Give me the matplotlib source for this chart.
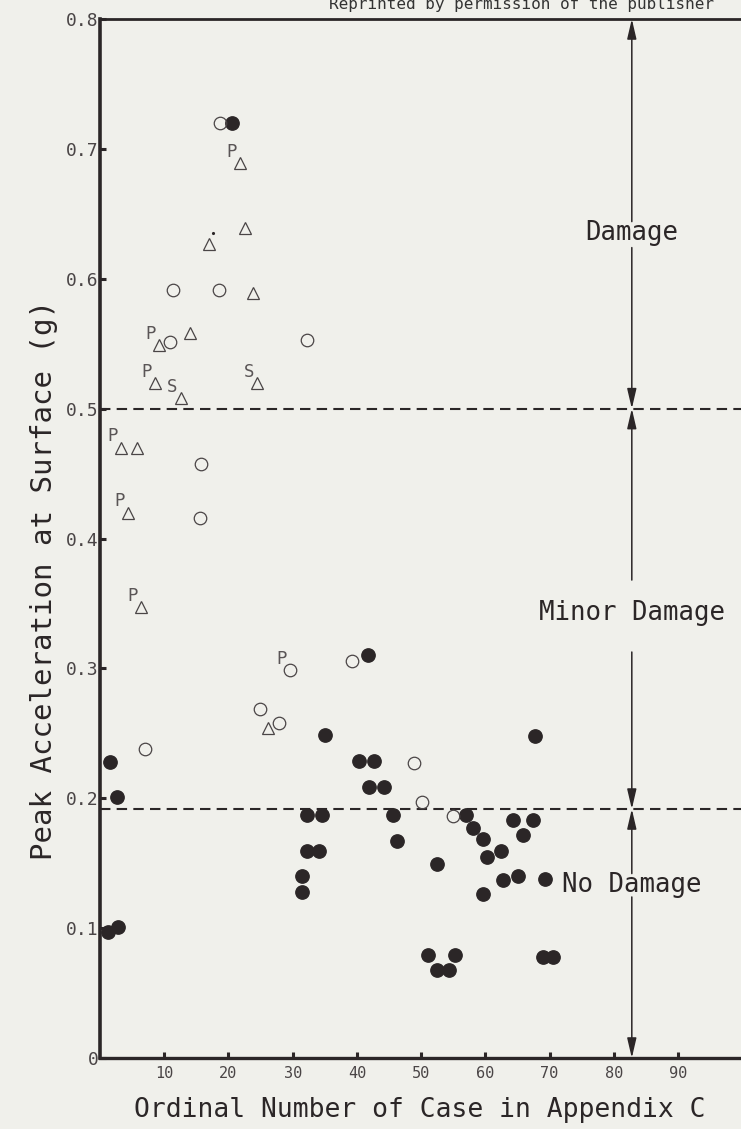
import matplotlib
matplotlib.use("Agg")
import matplotlib.pyplot as plt

# Cases with damage data: ordinal case number vs. peak surface acceleration (g)
solid_x = [20.6, 41.7, 35.0, 1.5, 2.6, 40.3, 42.7, 41.9, 44.2, 32.2, 34.6, 45.6,
           46.3, 32.2, 34.1, 52.5, 31.5, 31.5, 67.8, 57.0, 58.1, 59.7, 64.3, 67.4,
           65.9, 62.5, 60.3, 62.8, 65.1, 69.3, 59.7, 1.2, 2.8, 51.1, 55.3, 52.5,
           54.4, 69.0, 70.6]
solid_y = [0.720, 0.310, 0.249, 0.228, 0.201, 0.229, 0.229, 0.209, 0.209, 0.187, 0.187, 0.187,
           0.167, 0.159, 0.159, 0.149, 0.140, 0.128, 0.248, 0.187, 0.177, 0.169, 0.183, 0.183,
           0.172, 0.159, 0.155, 0.137, 0.140, 0.138, 0.126, 0.097, 0.101, 0.079, 0.079, 0.068,
           0.068, 0.078, 0.078]

open_x = [18.7, 11.4, 18.5, 10.9, 32.2, 15.7, 15.6, 29.6, 39.2, 24.9, 27.9, 7.0, 48.9, 50.2, 55.0]
open_y = [0.720, 0.591, 0.591, 0.551, 0.553, 0.457, 0.416, 0.299, 0.306, 0.269, 0.258, 0.238,
          0.227, 0.197, 0.186]
open_tags = ["", "", "", "", "", "", "", "P", "", "", "", "", "", "", ""]

tri_x = [21.8, 22.6, 17.0, 23.8, 9.2, 14.0, 8.6, 12.6, 24.5, 3.3, 5.7, 4.3, 6.4, 26.2]
tri_y = [0.689, 0.639, 0.627, 0.589, 0.549, 0.558, 0.520, 0.508, 0.520, 0.470, 0.470, 0.420,
         0.347, 0.254]
tri_tags = ["P", "", "", "", "P", "", "P", "S", "S", "P", "", "P", "P", ""]

# damage thresholds (g)
limits = [0.0, 0.1917, 0.5, 0.8]
zone_names = ["No Damage", "Minor Damage", "Damage"]
zone_text_y = [0.133, 0.343, 0.635]
zone_gap = [(0.124, 0.142), (0.3126, 0.368), (0.624, 0.644)]
arrow_x = 82.8

xticks = [10, 20, 30, 40, 50, 60, 70, 80, 90]
yticks = [0, 0.1, 0.2, 0.3, 0.4, 0.5, 0.6, 0.7, 0.8]
ytick_labels = ["0", "0.1", "0.2", "0.3", "0.4", "0.5", "0.6", "0.7", "0.8"]

bg = "#f0f0eb"
ink = "#2b2627"
mono = "DejaVu Sans Mono"

fig = plt.figure(figsize=(7.41, 11.29), dpi=100, facecolor=bg)
ax = fig.add_axes([100 / 741, 71 / 1129, 641 / 741, 1039 / 1129], facecolor=bg)
ax.set_xlim(0, 99.8)
ax.set_ylim(0, 0.8)

# threshold lines
for lim in limits[1:3]:
    ax.axhline(lim, color=ink, lw=1.5, dashes=(5, 3), zorder=1)

ax.plot(solid_x, solid_y, "o", ms=9.6, color=ink, mec=ink, zorder=3)
ax.plot(open_x, open_y, "o", ms=9, mfc="none", mec="#4a4546", mew=0.9, zorder=3)
ax.plot(tri_x, tri_y, "^", ms=8, mfc="none", mec="#4a4546", mew=0.9, zorder=3)
ax.plot([17.6], [0.635], ".", ms=2.5, color=ink)

for x, y, t in zip(tri_x + open_x, tri_y + open_y, tri_tags + open_tags):
    if t:
        ax.annotate(t, (x, y), xytext=(-6, 8), textcoords="offset points",
                    ha="center", va="center", fontsize=12.5, family=mono, color="#5a5556")

# zone arrows with labels
head = "-|>,head_length=0.6,head_width=0.14"
for lo, hi, name, ty, gap in zip(limits[:-1], limits[1:], zone_names, zone_text_y, zone_gap):
    ax.annotate("", xy=(arrow_x, hi), xytext=(arrow_x, gap[1]),
                arrowprops=dict(arrowstyle=head, mutation_scale=20, lw=1.1, color=ink,
                                shrinkA=0, shrinkB=0))
    ax.annotate("", xy=(arrow_x, lo), xytext=(arrow_x, gap[0]),
                arrowprops=dict(arrowstyle=head, mutation_scale=20, lw=1.1, color=ink,
                                shrinkA=0, shrinkB=0))
    ax.text(arrow_x, ty, name, ha="center", va="center", fontsize=18.5, family=mono,
            color=ink)

for side in ["left", "bottom", "top"]:
    ax.spines[side].set_color(ink)
ax.spines["left"].set_linewidth(2.6)
ax.spines["bottom"].set_linewidth(2.4)
ax.spines["top"].set_linewidth(2.0)
ax.spines["right"].set_visible(False)

ax.set_xticks(xticks)
ax.set_xticklabels([str(v) for v in xticks], fontsize=11, family=mono, color="#4a4546")
ax.set_yticks(yticks)
ax.set_yticklabels(ytick_labels, fontsize=13, family=mono, color="#4a4546")
ax.tick_params(axis="x", direction="in", length=4.5, width=2.2, color=ink, pad=6)
ax.tick_params(axis="y", direction="in", length=4.5, width=2.2, color=ink, pad=1)

ax.set_xlabel("Ordinal Number of Case in Appendix C", fontsize=19, family=mono, color=ink)
ax.xaxis.set_label_coords(0.499, -0.038)
ax.set_ylabel("Peak Acceleration at Surface (g)", fontsize=21, family=mono, color=ink)
ax.yaxis.set_label_coords(-0.066, 0.46)

fig.text(329 / 741, 1 - 9 / 1129, "Reprinted by permission of the publisher",
         fontsize=11.5, family=mono, color="#333", va="baseline")

fig.savefig("out.png", dpi=100, facecolor=bg)
